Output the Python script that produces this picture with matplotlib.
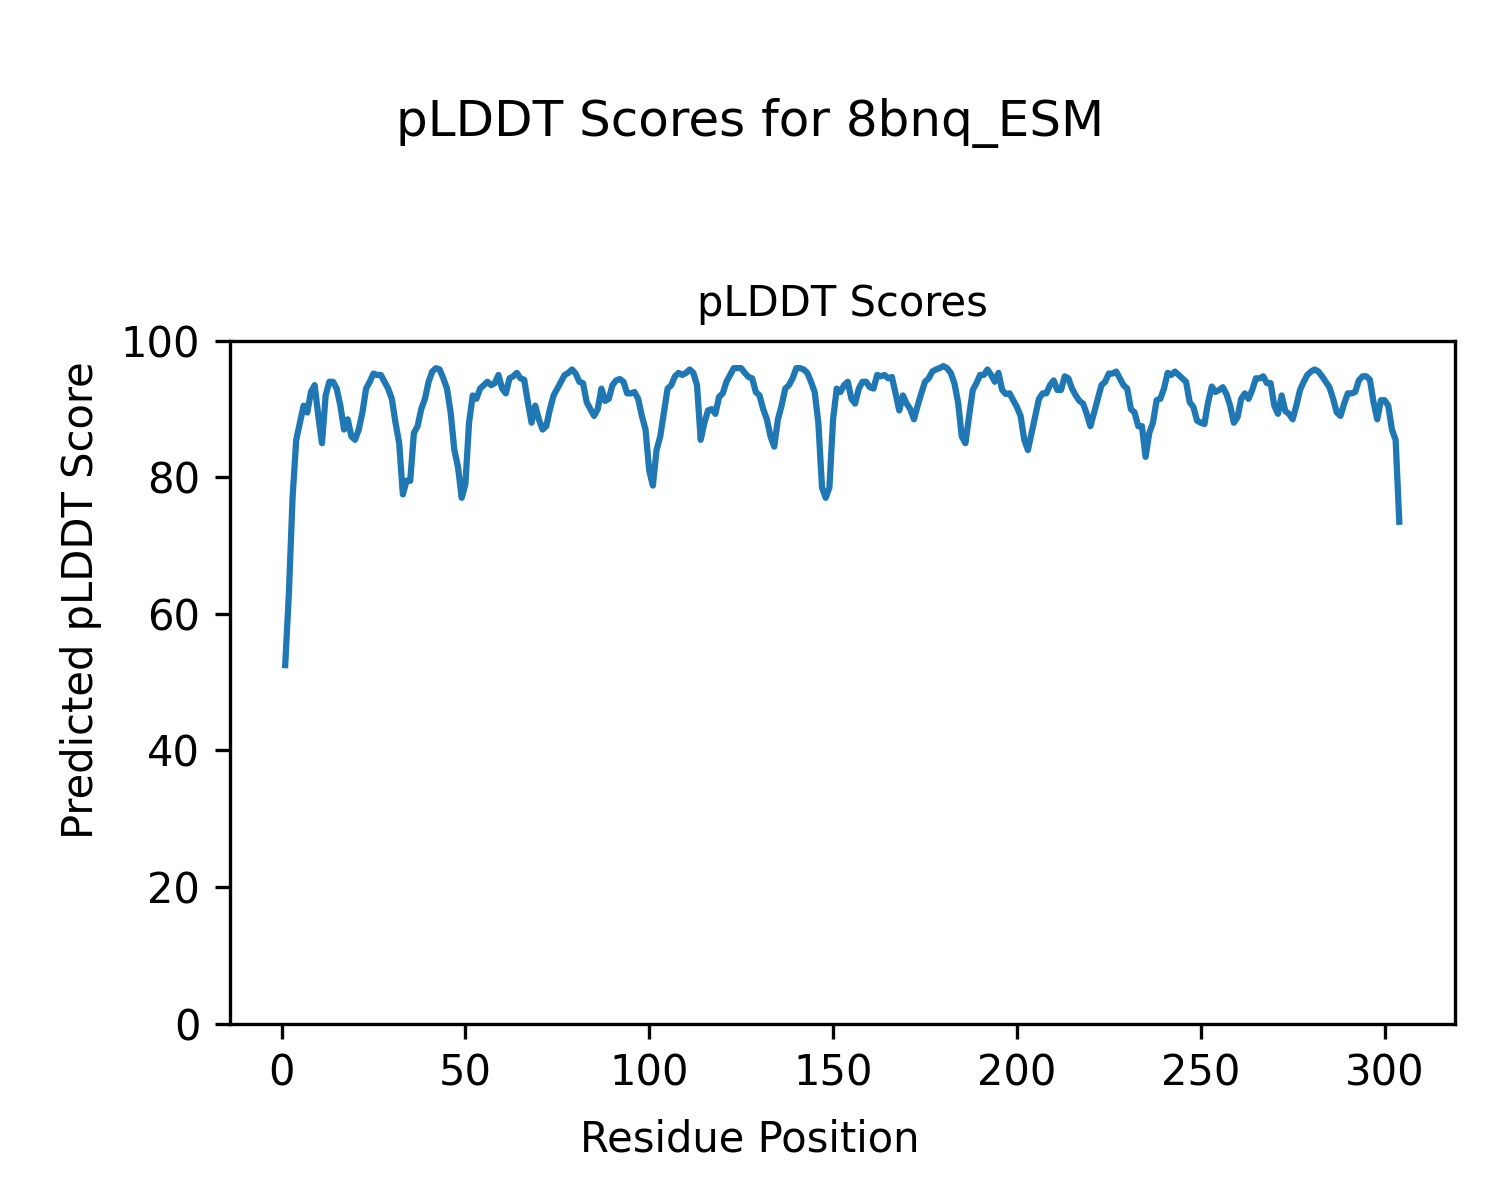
import numpy as np
import matplotlib
matplotlib.use('Agg')
import matplotlib.pyplot as plt

# pLDDT per residue
plddt = [
    52.5, 63.0, 77.0, 85.5, 88.0, 90.5, 89.5, 92.5, 93.5, 89.0,
    85.0, 92.0, 94.0, 94.0, 93.0, 90.5, 87.0, 88.5, 86.0, 85.5,
    87.0, 89.5, 93.0, 94.0, 95.2, 95.0, 95.0, 94.0, 93.0, 91.5,
    88.0, 85.0, 77.5, 79.5, 79.5, 86.5, 87.5, 90.0, 91.5, 94.0,
    95.5, 96.0, 95.8, 94.5, 93.0, 89.5, 84.0, 81.5, 77.0, 79.0,
    88.0, 92.0, 91.5, 93.0, 93.5, 94.0, 93.5, 93.8, 95.0, 93.0,
    92.3, 94.5, 94.8, 95.3, 94.5, 94.3, 91.0, 88.0, 90.5, 88.5,
    87.0, 87.5, 90.0, 92.0, 93.0, 94.0, 95.0, 95.3, 95.8, 95.2,
    94.0, 93.8, 91.0, 90.0, 89.0, 90.0, 93.0, 91.2, 91.5, 93.5,
    94.2, 94.4, 94.0, 92.3, 92.3, 92.5, 91.5, 89.0, 87.0, 81.0,
    78.8, 84.0, 86.0, 89.5, 93.0, 93.5, 94.8, 95.3, 95.0, 95.3,
    95.8, 95.3, 93.5, 85.5, 88.0, 89.8, 90.0, 89.3, 91.8, 92.3,
    94.0, 95.0, 96.0, 96.0, 96.0, 95.3, 94.7, 94.5, 92.5, 92.0,
    90.0, 88.5, 86.0, 84.5, 88.5, 90.5, 93.0, 93.5, 94.5, 96.0,
    96.0, 95.8, 95.3, 94.0, 92.5, 88.0, 78.5, 77.0, 78.5, 88.5,
    93.0, 92.5, 93.5, 94.0, 91.5, 90.8, 93.0, 94.0, 94.0, 93.2,
    93.0, 95.0, 94.8, 95.0, 94.5, 94.7, 92.3, 89.8, 92.0, 90.8,
    90.0, 88.5, 90.5, 92.3, 94.0, 94.5, 95.5, 95.8, 96.0, 96.3,
    96.0, 95.3, 93.8, 91.0, 86.0, 85.0, 89.0, 92.8, 93.8, 95.0,
    95.0, 95.8, 95.0, 94.0, 95.3, 92.8, 92.2, 92.3, 91.3, 90.3,
    89.0, 85.5, 84.0, 86.5, 89.0, 91.5, 92.3, 92.3, 93.5, 94.2,
    92.8, 92.8, 94.8, 94.5, 93.0, 92.0, 91.2, 90.8, 89.3, 87.5,
    89.5, 91.5, 93.5, 94.0, 95.2, 95.2, 95.5, 94.5, 93.5, 93.0,
    90.0, 89.5, 87.5, 87.5, 83.0, 86.5, 88.0, 91.3, 91.5, 93.0,
    95.3, 95.0, 95.5, 95.0, 94.5, 94.0, 91.0, 90.3, 88.3, 88.0,
    87.8, 91.0, 93.3, 92.5, 92.8, 93.2, 92.2, 90.5, 88.0, 88.8,
    91.5, 92.3, 91.5, 92.8, 94.5, 94.5, 94.8, 93.8, 93.8, 90.5,
    89.3, 92.0, 89.7, 89.3, 88.5, 90.5, 92.8, 94.0, 95.0, 95.5,
    95.8, 95.5, 94.8, 94.0, 93.2, 91.5, 89.5, 89.0, 90.8, 92.3,
    92.3, 92.5, 94.2, 94.8, 94.8, 94.3, 91.0, 88.5, 91.3, 91.3,
    90.5, 87.0, 85.5, 73.5,
]
residues = np.arange(1, len(plddt) + 1)

fig, ax = plt.subplots(figsize=(5, 4), dpi=300)
fig.subplots_adjust(left=0.153, right=0.97, top=0.716, bottom=0.147)

ax.plot(residues, plddt)
ax.set_ylim(0, 100)
ax.set_title("pLDDT Scores", fontsize=10)

# labels shared at figure level
fig.supxlabel("Residue Position", fontsize=10, y=0.033)
fig.supylabel("Predicted pLDDT Score", fontsize=10, x=0.04)
fig.suptitle("pLDDT Scores for 8bnq_ESM", y=0.918)

fig.savefig("out.png", dpi=300)
